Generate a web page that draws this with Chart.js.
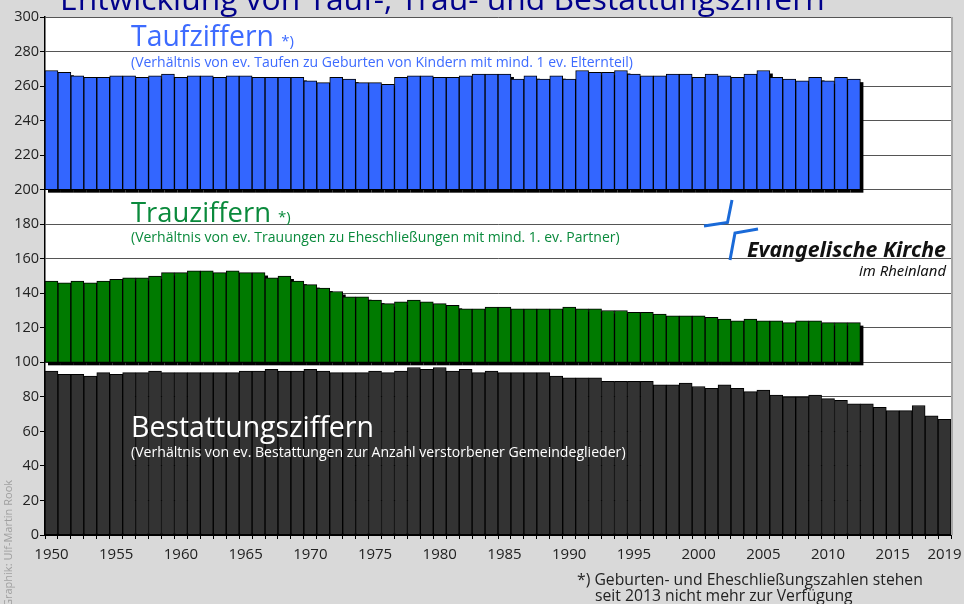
<!DOCTYPE html>
<html><head><meta charset="utf-8">
<script src="https://cdn.jsdelivr.net/npm/chart.js@4/dist/chart.umd.min.js"></script>
<style>html,body{margin:0;padding:0;background:#d9d9d9;}#wrap{width:964px;height:604px;position:relative;}</style>
</head><body><div id="wrap"><canvas id="c" width="964" height="604"></canvas></div>
<script>
const years = ['1950','1951','1952','1953','1954','1955','1956','1957','1958','1959',
 '1960','1961','1962','1963','1964','1965','1966','1967','1968','1969',
 '1970','1971','1972','1973','1974','1975','1976','1977','1978','1979',
 '1980','1981','1982','1983','1984','1985','1986','1987','1988','1989',
 '1990','1991','1992','1993','1994','1995','1996','1997','1998','1999',
 '2000','2001','2002','2003','2004','2005','2006','2007','2008','2009',
 '2010','2011','2012','2013','2014','2015','2016','2017','2018','2019'];
const xTickLabels = ['1950','1955','1960','1965','1970','1975','1980','1985','1990','1995','2000','2005','2010','2015','2019'];
const yTicks = [0,20,40,60,80,100,120,140,160,180,200,220,240,260,280,300];
// Taufziffern 1950-2012 (drawn from base 200)
const taufBase = 200;
const taufziffern = [269,268,266,265,265,266,266,265,266,267,
 265,266,266,265,266,266,265,265,265,265,
 263,262,265,264,262,262,261,265,266,266,
 265,265,266,267,267,267,264,266,264,266,
 264,269,268,268,269,267,266,266,267,267,
 265,267,266,265,267,269,265,264,263,265,
 263,265,264];
// Trauziffern 1950-2012 (drawn from base 100)
const trauBase = 100;
const trauziffern = [147,146,147,146,147,148,149,149,150,152,
 152,153,153,152,153,152,152,149,150,147,
 145,143,141,138,138,136,134,135,136,135,
 134,133,131,131,132,132,131,131,131,131,
 132,131,131,130,130,129,129,128,127,127,
 127,126,125,124,125,124,124,123,124,124,
 123,123,123];
// Bestattungsziffern 1950-2019
const bestattungsziffern = [95,93,93,92,94,93,94,94,95,94,
 94,94,94,94,94,95,95,96,95,95,
 96,95,94,94,94,95,94,95,97,96,
 97,95,96,94,95,94,94,94,94,92,
 91,91,91,89,89,89,89,87,87,88,
 86,85,87,85,83,84,81,80,80,81,
 79,78,76,76,74,72,72,75,69,67];

const FONT = "'Open Sans', 'Noto Sans', sans-serif";
const floatFrom = (base, arr) => years.map((y, i) => (arr[i] === undefined ? null : [base, arr[i]]));

// draw text scaled so that it spans the given width
function fitText(ctx, text, x, y, width, style, family) {
  ctx.font = `${style} 20px ${family}`;
  const m = ctx.measureText(text).width;
  const size = 20 * width / m;
  ctx.font = `${style} ${size}px ${family}`;
  ctx.fillText(text, x, y);
  return size;
}

const bgPlugin = {
  id: 'bg',
  beforeDraw(chart) {
    const {ctx, chartArea: a} = chart;
    ctx.save();
    ctx.fillStyle = '#d9d9d9';
    ctx.fillRect(0, 0, chart.width, chart.height);
    ctx.fillStyle = '#ffffff';
    ctx.fillRect(a.left, a.top, a.right - a.left, a.bottom - a.top);
    ctx.restore();
  },
  afterDatasetsDraw(chart) {
    const {ctx, chartArea: a} = chart;
    ctx.save();
    ctx.strokeStyle = '#a6a6a6';
    ctx.lineWidth = 2;
    ctx.beginPath();
    ctx.moveTo(a.right + 1, a.top);
    ctx.lineTo(a.right + 1, a.bottom);
    ctx.stroke();
    ctx.restore();
  }
};

const shadowPlugin = {
  id: 'shadow',
  beforeDatasetDraw(chart, args) {
    if (args.index !== 0 && args.index !== 1) return;
    const ctx = chart.ctx;
    ctx.save();
    ctx.fillStyle = '#000000';
    args.meta.data.forEach(el => {
      const p = el.getProps(['x', 'y', 'base', 'width'], true);
      if (!isFinite(p.y) || !isFinite(p.base)) return;
      const top = Math.min(p.y, p.base), h = Math.abs(p.base - p.y);
      ctx.fillRect(p.x - p.width / 2 + 3, top + 3, p.width, h);
    });
    ctx.restore();
  }
};

const textPlugin = {
  id: 'texts',
  afterDraw(chart) {
    const ctx = chart.ctx;
    ctx.save();
    ctx.textBaseline = 'alphabetic';
    ctx.textAlign = 'left';
    // main title (partly cut at top)
    ctx.fillStyle = '#00008b';
    fitText(ctx, 'Entwicklung von Tauf-, Trau- und Bestattungsziffern', 60, 10, 765, '', FONT);
    // Taufziffern
    ctx.fillStyle = '#3d6bff';
    fitText(ctx, 'Taufziffern', 131, 46, 143, '', FONT);
    let w = ctx.measureText('Taufziffern ').width;
    ctx.font = `15px ${FONT}`;
    ctx.fillText('*)', 131 + w, 46);
    fitText(ctx, '(Verhältnis von ev. Taufen zu Geburten von Kindern mit mind. 1 ev. Elternteil)', 131, 67, 502, '', FONT);
    // Trauziffern
    ctx.fillStyle = '#0a8a3c';
    fitText(ctx, 'Trauziffern', 131, 222, 140, '', FONT);
    w = ctx.measureText('Trauziffern ').width;
    ctx.font = `15px ${FONT}`;
    ctx.fillText('*)', 131 + w, 222);
    fitText(ctx, '(Verhältnis von ev. Trauungen zu Eheschließungen mit mind. 1. ev. Partner)', 131, 242, 489, '', FONT);
    // Bestattungsziffern
    ctx.fillStyle = '#ffffff';
    fitText(ctx, 'Bestattungsziffern', 131, 437, 243, '', FONT);
    fitText(ctx, '(Verhältnis von ev. Bestattungen zur Anzahl verstorbener Gemeindeglieder)', 131, 457, 495, '', FONT);
    // Logo
    ctx.strokeStyle = '#1a6ad8';
    ctx.lineWidth = 3;
    ctx.lineJoin = 'miter';
    ctx.beginPath();
    ctx.moveTo(732, 200); ctx.lineTo(727.5, 222.5); ctx.lineTo(704, 226);
    ctx.stroke();
    ctx.beginPath();
    ctx.moveTo(730, 260); ctx.lineTo(735, 233); ctx.lineTo(758, 229);
    ctx.stroke();
    ctx.fillStyle = '#111111';
    fitText(ctx, 'Evangelische Kirche', 747, 257, 199, 'italic bold', `'Noto Sans', ${FONT}`);
    fitText(ctx, 'im Rheinland', 859, 276, 87, 'italic', `'Noto Sans', ${FONT}`);
    // footnote
    ctx.fillStyle = '#222222';
    const fs = fitText(ctx, '*) Geburten- und Eheschließungszahlen stehen', 577, 585, 346, '', FONT);
    ctx.font = `${fs}px ${FONT}`;
    ctx.fillText('seit 2013 nicht mehr zur Verfügung', 595, 601);
    // credit
    ctx.save();
    ctx.translate(11.5, 607);
    ctx.rotate(-Math.PI / 2);
    ctx.fillStyle = '#a0a0a0';
    ctx.font = `11px ${FONT}`;
    ctx.fillText('Graphik: Ulf-Martin Rook', 0, 0);
    ctx.restore();
    ctx.restore();
  }
};

new Chart(document.getElementById('c'), {
  type: 'bar',
  data: {
    labels: years,
    datasets: [
      { label: 'Taufziffern', data: floatFrom(taufBase, taufziffern), backgroundColor: '#3366ff',
        borderColor: '#000', borderWidth: 1, borderSkipped: false, grouped: false,
        barPercentage: 1, categoryPercentage: 1 },
      { label: 'Trauziffern', data: floatFrom(trauBase, trauziffern), backgroundColor: '#007a00',
        borderColor: '#000', borderWidth: 1, borderSkipped: false, grouped: false,
        barPercentage: 1, categoryPercentage: 1 },
      { label: 'Bestattungsziffern', data: bestattungsziffern, backgroundColor: '#333333',
        borderColor: '#000', borderWidth: 1, borderSkipped: false, grouped: false,
        barPercentage: 1, categoryPercentage: 1 }
    ]
  },
  options: {
    responsive: false,
    animation: false,
    devicePixelRatio: 1,
    layout: { padding: { top: 17, right: 13, left: 0, bottom: 0 } },
    plugins: { legend: { display: false }, title: { display: false }, tooltip: { enabled: false } },
    scales: {
      x: {
        offset: true,
        grid: { display: true, drawOnChartArea: false, offset: true, tickLength: 4, color: '#000', lineWidth: 1 },
        border: { color: '#000', width: 2 },
        ticks: { autoSkip: false, maxRotation: 0, minRotation: 0, padding: 7, color: '#222',
          font: { size: 15, family: FONT },
          callback: function(v, i) { const l = years[i]; return xTickLabels.includes(l) ? l : ''; } },
        afterFit: s => { s.height = 69; s.paddingLeft = 0; s.paddingRight = 0; }
      },
      y: {
        min: 0, max: 300,
        afterBuildTicks: s => { s.ticks = yTicks.map(v => ({ value: v })); },
        grid: { color: '#555', lineWidth: 1, tickLength: 5, tickColor: '#000' },
        border: { color: '#000', width: 1.5 },
        ticks: { padding: 1, color: '#222', font: { size: 14.5, family: FONT } },
        afterFit: s => { s.width = 45; s.paddingTop = 0; s.paddingBottom = 0; }
      }
    }
  },
  plugins: [bgPlugin, shadowPlugin, textPlugin]
});
</script></body></html>
